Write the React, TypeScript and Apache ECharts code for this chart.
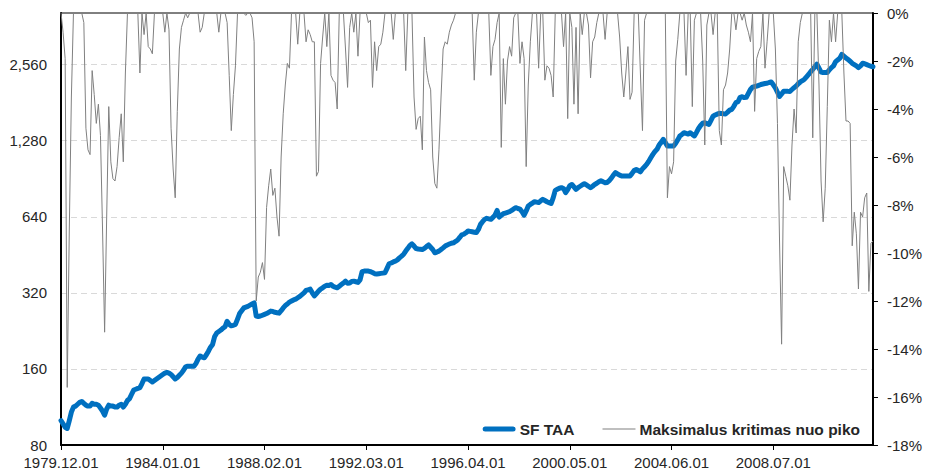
import React, { useEffect, useRef } from "react";
import * as echarts from "echarts";

// ---- Data (monthly, 1979.12 – 2012.07) ----
const startYear = 1979;
const startMonth = 12;

// SF TAA index level (log scale, left axis)
const taa1979 = [100];
const taa1980 = [97, 94, 93, 100, 108, 113, 114, 116, 118, 119, 117, 115];
const taa1981 = [114, 114, 117, 116, 116, 115, 112, 109, 105, 111, 115, 114];
const taa1982 = [114, 113, 113, 115, 116, 113, 116, 120, 122, 127, 132, 133];
const taa1983 = [134, 135, 140, 146, 146, 146, 144, 142, 144, 146, 148, 150];
const taa1984 = [152, 154, 155, 154, 152, 149, 146, 148, 151, 154, 158, 163];
const taa1985 = [164, 164, 164, 164, 168, 175, 180, 178, 177, 182, 188, 195];
const taa1986 = [200, 215, 222, 225, 228, 232, 235, 247, 240, 237, 238, 240];
const taa1987 = [252, 265, 272, 279, 281, 283, 286, 289, 292, 259, 258, 259];
const taa1988 = [261, 263, 265, 268, 271, 270, 268, 267, 266, 272, 279, 285];
const taa1989 = [289, 294, 297, 300, 302, 306, 310, 315, 320, 327, 329, 331];
const taa1990 = [320, 311, 318, 325, 331, 335, 340, 343, 342, 345, 340, 337];
const taa1991 = [335, 340, 345, 350, 356, 349, 350, 355, 356, 354, 352, 360];
const taa1992 = [388, 390, 390, 390, 388, 385, 381, 380, 381, 382, 383, 384];
const taa1993 = [400, 417, 420, 424, 427, 432, 440, 447, 455, 468, 480, 493];
const taa1994 = [500, 490, 479, 477, 476, 475, 480, 488, 495, 485, 475, 461];
const taa1995 = [464, 468, 475, 482, 490, 495, 499, 503, 505, 511, 518, 530];
const taa1996 = [543, 546, 553, 562, 560, 558, 556, 554, 570, 597, 612, 625];
const taa1997 = [631, 628, 625, 636, 650, 678, 638, 648, 658, 662, 666, 670];
const taa1998 = [678, 687, 695, 690, 686, 670, 650, 675, 706, 716, 725, 734];
const taa1999 = [731, 728, 740, 750, 742, 734, 728, 722, 760, 814, 822, 830];
const taa2000 = [834, 828, 797, 820, 850, 859, 840, 821, 835, 845, 855, 865];
const taa2001 = [855, 845, 834, 845, 859, 868, 880, 888, 880, 873, 875, 890];
const taa2002 = [910, 935, 956, 945, 935, 927, 927, 927, 927, 927, 950, 975];
const taa2003 = [985, 975, 964, 990, 1010, 1031, 1060, 1096, 1130, 1160, 1183, 1230];
const taa2004 = [1260, 1296, 1260, 1219, 1219, 1219, 1219, 1250, 1290, 1336, 1355, 1376];
const taa2005 = [1368, 1360, 1376, 1355, 1336, 1380, 1430, 1470, 1500, 1508, 1495, 1485];
const taa2006 = [1540, 1600, 1617, 1630, 1643, 1640, 1635, 1632, 1660, 1690, 1703, 1750];
const taa2007 = [1810, 1825, 1900, 1910, 1895, 1900, 1970, 2040, 2085, 2095, 2105, 2120];
const taa2008 = [2135, 2145, 2155, 2160, 2175, 2185, 2130, 2070, 1990, 1915, 1960, 2010];
const taa2009 = [2010, 2007, 2005, 2040, 2075, 2105, 2150, 2185, 2210, 2240, 2290, 2340];
const taa2010 = [2400, 2452, 2510, 2570, 2480, 2390, 2380, 2380, 2380, 2440, 2490, 2530];
const taa2011 = [2630, 2670, 2710, 2810, 2760, 2720, 2680, 2640, 2590, 2560, 2530, 2490];
const taa2012 = [2530, 2590, 2580, 2560, 2540, 2520, 2510];

// Maksimalus kritimas nuo piko (%, right axis)
const dd1979 = [0];
const dd1980 = [-0.8, -1.9, -15.6, -9, -3.5, 0, 0, 0, 0, 0, -0.4, -4.8];
const dd1981 = [-5.7, -5.9, -2.4, -3.4, -4.6, -3.8, -5.1, -9, -13.3, -8.5, -3.9, -6.2];
const dd1982 = [-6.9, -7, -6.4, -5.2, -4.2, -6.2, -2.5, 0, 0, 0, 0, 0];
const dd1983 = [0, -2.5, 0, -0.9, 0, -1.4, -1.5, -1.7, 0, 0, 0, 0];
const dd1984 = [0, -0.8, 0, -0.7, -4.8, -6.5, -7.7, -4.1, -1.5, -0.6, -0.3, 0];
const dd1985 = [-0.2, 0, 0, 0, 0, 0, -0.8, -0.6, 0, 0, 0, 0];
const dd1986 = [0, 0, 0, -0.8, 0, 0, 0, -0.4, -2.6, -4.9, -3.4, -2.2];
const dd1987 = [0, 0, 0, 0, -0.1, 0, 0, -0.2, -1.2, -12, -11, -10.8];
const dd1988 = [-10.4, -11.1, -8.1, -7.2, -6.5, -7.6, -7.3, -8.5, -9.3, -6, -4.2, -3];
const dd1989 = [-2.1, -2.3, 0, 0, 0, -1.3, 0, 0, 0, -1.2, -0.7, -0.9];
const dd1990 = [-1.2, -1.2, -6.8, -6.6, -2.1, -1, 0, -1.4, 0, -2.6, -2.8, -2.9];
const dd1991 = [-4, 0, 0, 0, -1.5, -3.1, -0.6, 0, -0.8, 0, -1.8, 0];
const dd1992 = [0, 0, 0, -0.4, -0.3, -3.1, -1.2, -2.4, -1.4, -1.3, -0.8, 0];
const dd1993 = [0, 0, 0, -1.1, 0, 0, 0, 0, 0, -2.4, 0, 0];
const dd1994 = [0, -3.5, -4.85, -4.4, -4.3, -5.7, -1, -2.4, -2.9, -3.2, -6, -7.1];
const dd1995 = [-7.3, -5.7, -3.5, -1.5, -1.2, -1.3, -0.8, -0.5, -0.3, 0, 0, 0];
const dd1996 = [0, 0, 0, 0, 0, 0, -2.8, -0.8, 0, 0, 0, 0];
const dd1997 = [0, 0, -2.6, -1.4, -1.1, -0.4, 0, -5.6, -1.9, -3.8, -2, -1.4];
const dd1998 = [-1.8, -0.2, 0, 0, -2.1, -1.2, -1.9, -6.4, -3, -1.2, 0, 0];
const dd1999 = [0, -2.3, 0, 0, -2.8, -2.2, -2.3, -2.6, -3.5, 0, 0, 0];
const dd2000 = [0, -1.4, 0, -4.4, 0, -0.6, -3.8, -0.6, -4.2, 0, -0.9, 0];
const dd2001 = [0, -0.5, -2.7, -1.2, -1, -0.4, 0, 0, 0, -1.1, 0, 0];
const dd2002 = [0, 0, 0, 0, -1, -2.5, -3.5, -2.5, -1.4, -3.6, -3.3, 0];
const dd2003 = [0, 0, -2.5, -4.9, -0.3, 0, 0, 0, 0, 0, 0, 0];
const dd2004 = [0, 0, 0, -7.7, -6.4, -6.7, -6.2, -2, -1.1, 0, 0, 0];
const dd2005 = [-2.6, 0, 0, -3.9, -0.3, 0, 0, 0, -2, -5.5, -0.5, 0];
const dd2006 = [0, -0.9, 0, 0, -4.9, -5.5, -3.2, -3, -2.5, -1.5, 0, 0];
const dd2007 = [-0.7, 0, 0, -0.3, 0, -0.5, -0.8, -1.2, 0, -4.1, -1.9, -1.6];
const dd2008 = [-1.4, 0, -2.3, -1.2, 0, 0, 0, -1.5, -4.6, -9.5, -13.8, -6.4];
const dd2009 = [-6.8, -7.2, -7.8, -5.5, -4, -5, -1.2, -0.4, 0, 0, 0, 0];
const dd2010 = [0, -5.2, 0, 0, -3, -7, -8.7, -7.3, -3.9, -0.3, -1.2, 0];
const dd2011 = [-1.2, 0, 0, 0, -2.5, -4.5, -4.5, -4.6, -9.7, -8.3, -9.2, -11.5];
const dd2012 = [-8.3, -8.5, -7.7, -7.5, -11.6, -9.6, -9.5];

const sfTaa = [
  ...taa1979, ...taa1980, ...taa1981, ...taa1982, ...taa1983, ...taa1984, ...taa1985,
  ...taa1986, ...taa1987, ...taa1988, ...taa1989, ...taa1990, ...taa1991, ...taa1992,
  ...taa1993, ...taa1994, ...taa1995, ...taa1996, ...taa1997, ...taa1998, ...taa1999,
  ...taa2000, ...taa2001, ...taa2002, ...taa2003, ...taa2004, ...taa2005, ...taa2006,
  ...taa2007, ...taa2008, ...taa2009, ...taa2010, ...taa2011, ...taa2012,
];
const drawdown = [
  ...dd1979, ...dd1980, ...dd1981, ...dd1982, ...dd1983, ...dd1984, ...dd1985,
  ...dd1986, ...dd1987, ...dd1988, ...dd1989, ...dd1990, ...dd1991, ...dd1992,
  ...dd1993, ...dd1994, ...dd1995, ...dd1996, ...dd1997, ...dd1998, ...dd1999,
  ...dd2000, ...dd2001, ...dd2002, ...dd2003, ...dd2004, ...dd2005, ...dd2006,
  ...dd2007, ...dd2008, ...dd2009, ...dd2010, ...dd2011, ...dd2012,
];

const months: string[] = sfTaa.map((_, k) => {
  const t = startMonth - 1 + k;
  const y = startYear + Math.floor(t / 12);
  const m = (t % 12) + 1;
  return `${y}.${m < 10 ? "0" + m : m}.01`;
});

// Left axis: log base 2, 80 .. 4096
const leftBase = 80;
const leftTop = 4096;
const rightTicks = { min: -18, max: 0, step: 2 };
const seriesNames = ["SF TAA", "Maksimalus kritimas nuo piko"];

const FONT = "'Liberation Sans', Arial, sans-serif";
const TXT = "#262626";

export default function App() {
  const ref = useRef<HTMLDivElement>(null);
  useEffect(() => {
    document.body.style.margin = "0";
    if (!ref.current) return;
    const chart = echarts.init(ref.current, undefined, { renderer: "svg" });
    const logMax = Math.log2(leftTop / leftBase);
    chart.setOption({
      animation: false,
      backgroundColor: "#fff",
      textStyle: { fontFamily: FONT },
      grid: {
        left: 61,
        right: 44,
        top: 13,
        bottom: 28,
        containLabel: false,
        show: true,
        borderColor: "#000",
        borderWidth: 1,
        backgroundColor: "transparent",
      },
      legend: {
        data: [
          { name: seriesNames[0], icon: "path://M2.5,0H30.5A2.5,2.5,0,0,1,30.5,5H2.5A2.5,2.5,0,0,1,2.5,0Z" },
          { name: seriesNames[1], icon: "path://M0,0H33V1H0Z" },
        ],
        right: 65,
        top: 421,
        padding: 0,
        itemWidth: 33,
        itemHeight: 14,
        itemGap: 28,
        symbolKeepAspect: true,
        textStyle: { fontFamily: FONT, fontSize: 15.5, fontWeight: "bold", color: TXT, padding: [0, 0, 0, -1] },
      },
      xAxis: {
        type: "category",
        data: months,
        boundaryGap: false,
        axisLine: { show: true, lineStyle: { color: "#000", width: 2 } },
        axisTick: { show: true, interval: 48, length: 5, lineStyle: { color: "#000", width: 1 } },
        axisLabel: { interval: 48, fontSize: 15, color: TXT, margin: 10, fontFamily: FONT },
        splitLine: { show: false },
      },
      yAxis: [
        {
          type: "value",
          min: 0,
          max: logMax,
          interval: 1,
          axisLine: { show: true, lineStyle: { color: "#000", width: 2 } },
          axisTick: { show: false },
          axisLabel: {
            fontSize: 15,
            color: TXT,
            margin: 14,
            fontFamily: FONT,
            showMaxLabel: false,
            formatter: (v: number) => {
              const r = Math.round(v);
              if (Math.abs(v - r) > 1e-6) return "";
              return (leftBase * Math.pow(2, r)).toLocaleString("en-US");
            },
          },
          splitLine: {
            show: true,
            showMinLine: false,
            showMaxLine: false,
            lineStyle: { color: "#d9d9d9", type: [6, 4], width: 1 },
          },
        },
        {
          type: "value",
          position: "right",
          min: rightTicks.min,
          max: rightTicks.max,
          interval: rightTicks.step,
          axisLine: { show: true, lineStyle: { color: "#000", width: 2 } },
          axisTick: { show: true, inside: false, length: 5, lineStyle: { color: "#000" } },
          axisLabel: {
            fontSize: 15,
            color: TXT,
            margin: 14,
            fontFamily: FONT,
            formatter: (v: number) => `${v}%`,
          },
          splitLine: { show: false },
        },
      ],
      series: [
        {
          name: seriesNames[0],
          type: "line",
          yAxisIndex: 0,
          data: sfTaa.map((v) => Math.log2(v / leftBase)),
          symbol: "none",
          showSymbol: false,
          smooth: false,
          lineStyle: { color: "#0070C0", width: 5, cap: "round", join: "round" },
          itemStyle: { color: "#0070C0" },
          z: 2,
        },
        {
          name: seriesNames[1],
          type: "line",
          yAxisIndex: 1,
          data: drawdown,
          symbol: "none",
          showSymbol: false,
          smooth: false,
          lineStyle: { color: "#808080", width: 1 },
          itemStyle: { color: "#808080" },
          z: 3,
        },
      ],
    });
    return () => chart.dispose();
  }, []);
  return <div ref={ref} style={{ width: 925, height: 473 }} />;
}
